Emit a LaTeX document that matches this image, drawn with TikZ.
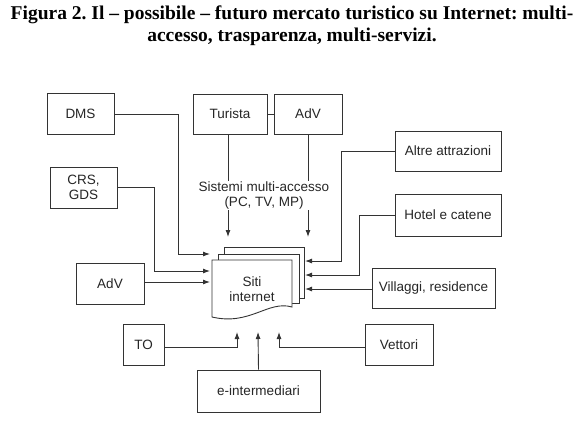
\documentclass[tikz,border=0pt]{standalone}
\usepackage{fontspec}
\setmainfont{Liberation Serif}
\setsansfont{Liberation Sans}
\usetikzlibrary{arrows.meta}
\frenchspacing
\begin{document}
\begin{tikzpicture}[x=1pt,y=-1pt,
  txt/.style={font=\sffamily\fontsize{13.5}{14.5}\selectfont, text=black!85, align=center},
  box/.style={txt, draw=black!80, line width=0.9pt, fill=white, inner sep=0pt},
  conn/.style={draw=black!80, line width=0.9pt, -{Latex[length=7pt,width=5pt]}},
  link/.style={draw=black!80, line width=0.9pt},
  page/.style={draw=black!80, line width=0.9pt, fill=white}]
\useasboundingbox (0,0) rectangle (585,436);
\node[font=\bfseries\fontsize{19.5}{22}\selectfont, align=center, inner sep=0pt] (title) at (292,26)
  {Figura 2. Il -- possibile -- futuro mercato turistico su Internet: multi-\\accesso, trasparenza, multi-servizi.};
% boxes
\node[box, minimum width=67pt, minimum height=41pt] (dms) at (80.5,114) {DMS};
\node[box, minimum width=74pt, minimum height=40pt] (tur) at (230,114) {Turista};
\node[box, minimum width=68pt, minimum height=40pt] (advt) at (308,114) {AdV};
\node[box, minimum width=67pt, minimum height=41pt] (crs) at (83.5,187.5) {CRS,\\GDS};
\node[box, minimum width=68pt, minimum height=41pt] (advl) at (110,283.5) {AdV};
\node[box, minimum width=41pt, minimum height=41pt] (to) at (143.5,344.5) {TO};
\node[box, minimum width=123pt, minimum height=42pt] (ei) at (258.5,391) {e-intermediari};
\node[box, minimum width=68pt, minimum height=41pt] (vet) at (399,344.5) {Vettori};
\node[box, minimum width=123pt, minimum height=40pt] (vil) at (433.5,288) {Villaggi, residence};
\node[box, minimum width=106pt, minimum height=42pt] (hot) at (448,215) {Hotel e catene};
\node[box, minimum width=106pt, minimum height=40pt] (alt) at (448,151) {Altre attrazioni};
\node[txt, inner sep=1pt] (sis) at (264,195.5) {Sistemi multi-accesso\\(PC, TV, MP)};
% stacked pages
\path[page] (224,247) rectangle (304,298);
\path[page] (218,254) rectangle (299,303);
\path[page] (212,260) -- (292,260) -- (292,307)
  .. controls (268,300) and (250,326) .. (212,317) -- cycle;
\node[txt] (siti) at (252,289) {Siti\\internet};
% coordinates
\coordinate (l1) at (210,254);
\coordinate (l2) at (210,271);
\coordinate (l3) at (210,282);
\coordinate (r1) at (305,261);
\coordinate (r2) at (305,275);
\coordinate (r3) at (305,289);
\coordinate (t1) at (228,237);
\coordinate (t2) at (308,237);
\coordinate (b1) at (237,332);
\coordinate (b2) at (258,332);
\coordinate (b3) at (279,332);
% connectors
\draw[link] (tur.east) -- (advt.west);
\draw[link] (tur.south -| t1) -- (sis.north -| t1);
\draw[link] (advt.south) -- (sis.north -| t2);
\draw[conn] (sis.south -| t1) -- (t1);
\draw[conn] (sis.south -| t2) -- (t2);
\draw[conn] (dms.east) -- (178,114) |- (l1);
\draw[conn] (crs.east) -- (154,187.5) |- (l2);
\draw[conn] (advl.east |- l3) -- (l3);
\draw[conn] (alt.west) -- (341,151) |- (r1);
\draw[conn] (hot.west) -- (359,215) |- (r2);
\draw[conn] (vil.west |- r3) -- (r3);
\draw[conn] (to.east |- 0,347) -| (b1);
\draw[conn] (ei.north) -- (b2);
\draw[conn] (vet.west |- 0,347) -| (b3);
\end{tikzpicture}
\end{document}
